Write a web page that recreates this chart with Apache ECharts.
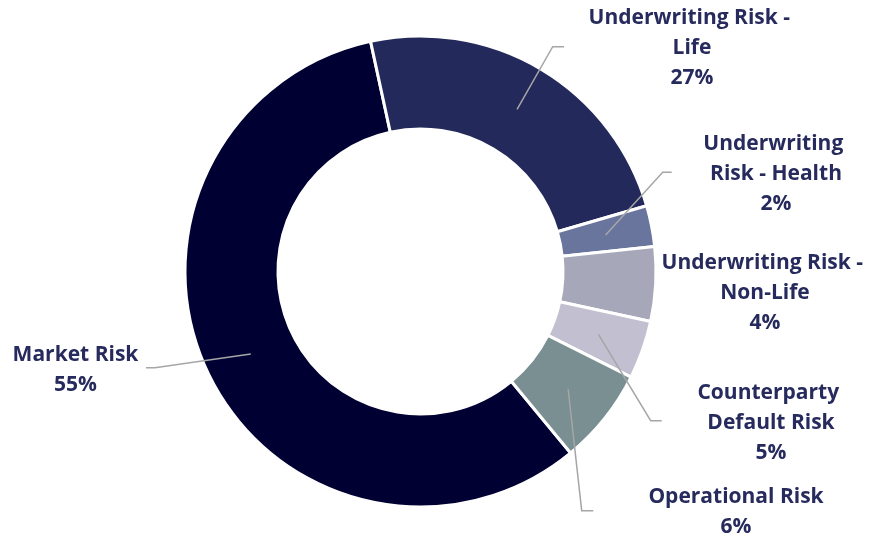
<!DOCTYPE html>
<html>
<head>
<meta charset="utf-8">
<script src="https://cdn.jsdelivr.net/npm/echarts@6/dist/echarts.min.js"></script>
<style>html,body{margin:0;padding:0;background:#fff}#c{width:871px;height:538px}</style>
</head>
<body>
<div id="c"></div>
<script>
// ---- data ----
const categories = ['Market Risk', 'Underwriting Risk - Life', 'Underwriting Risk - Health',
  'Underwriting Risk - Non-Life', 'Counterparty Default Risk', 'Operational Risk'];
// slice sizes as drawn (share of the ring)
const sliceValues = [57.6, 23.9, 2.8, 5.1, 4.0, 6.6];
// percentages as printed on the labels
const labelPercents = [55, 27, 2, 4, 5, 6];

// ---- styling / layout ----
const colors = ['#000033', '#23295B', '#6A759E', '#A6A8B9', '#C1BFD0', '#798F92'];
const CX = 420.5, CY = 271.5, R_IN = 142.5, R_OUT = 235.5, R_ANCHOR = 188.7;
const START = 309.6;
const labelWidths = [140, 215, 150, 215, 150, 200];
const labelSpots = [
  { x: 75.5, y: 370, bend: [155, 367.7], end: [146, 367.7] },
  { x: 692, y: 48, bend: [552.7, 46.7], end: [564, 46.7] },
  { x: 776, y: 174, bend: [662.7, 172.3], end: [671.7, 172.3] },
  { x: 765, y: 293, bend: null, end: null },
  { x: 771, y: 423, bend: [650.7, 420.7], end: [661.7, 420.7] },
  { x: 736, y: 512, bend: [581.7, 510.7], end: [593.3, 510.7] }
];

const total = sliceValues.reduce((a, b) => a + b, 0);
function anchorPoint(i) {
  let cum = 0;
  for (let k = 0; k < i; k++) cum += sliceValues[k];
  const ang = (START - (cum + sliceValues[i] / 2) / total * 360) * Math.PI / 180;
  return [CX + R_ANCHOR * Math.cos(ang), CY - R_ANCHOR * Math.sin(ang)];
}

const ringData = categories.map((name, i) => ({
  name: name,
  value: sliceValues[i],
  itemStyle: { color: colors[i] }
}));
const labelData = categories.map((name, i) => ({
  name: name,
  value: sliceValues[i],
  label: { width: labelWidths[i] },
  labelLine: { show: labelSpots[i].bend !== null }
}));

const chart = echarts.init(document.getElementById('c'));
chart.setOption({
  animation: false,
  series: [{
    type: 'pie',
    z: 2,
    center: [CX, CY],
    radius: [R_IN, R_OUT],
    startAngle: START,
    clockwise: true,
    silent: true,
    itemStyle: { borderColor: '#ffffff', borderWidth: 3 },
    label: { show: false },
    labelLine: { show: false },
    data: ringData
  }, {
    type: 'pie',
    z: 5,
    center: [CX, CY],
    radius: [0, R_ANCHOR],
    startAngle: START,
    clockwise: true,
    silent: true,
    avoidLabelOverlap: false,
    itemStyle: { color: 'rgba(0,0,0,0)', borderWidth: 0 },
    label: {
      show: true,
      position: 'outside',
      formatter: p => p.name + '\n' + labelPercents[p.dataIndex] + '%',
      fontFamily: 'Open Sans',
      fontWeight: 'bold',
      fontSize: 21,
      lineHeight: 30,
      color: '#262A5C',
      align: 'center',
      overflow: 'break'
    },
    labelLine: { show: true, lineStyle: { color: '#A6A6A6', width: 1.5 } },
    labelLayout: function (params) {
      const i = params.dataIndex;
      const s = labelSpots[i];
      const out = { x: s.x, y: s.y, align: 'center', verticalAlign: 'middle' };
      if (s.bend) out.labelLinePoints = [anchorPoint(i), s.bend, s.end];
      return out;
    },
    data: labelData
  }]
});
</script>
</body>
</html>
